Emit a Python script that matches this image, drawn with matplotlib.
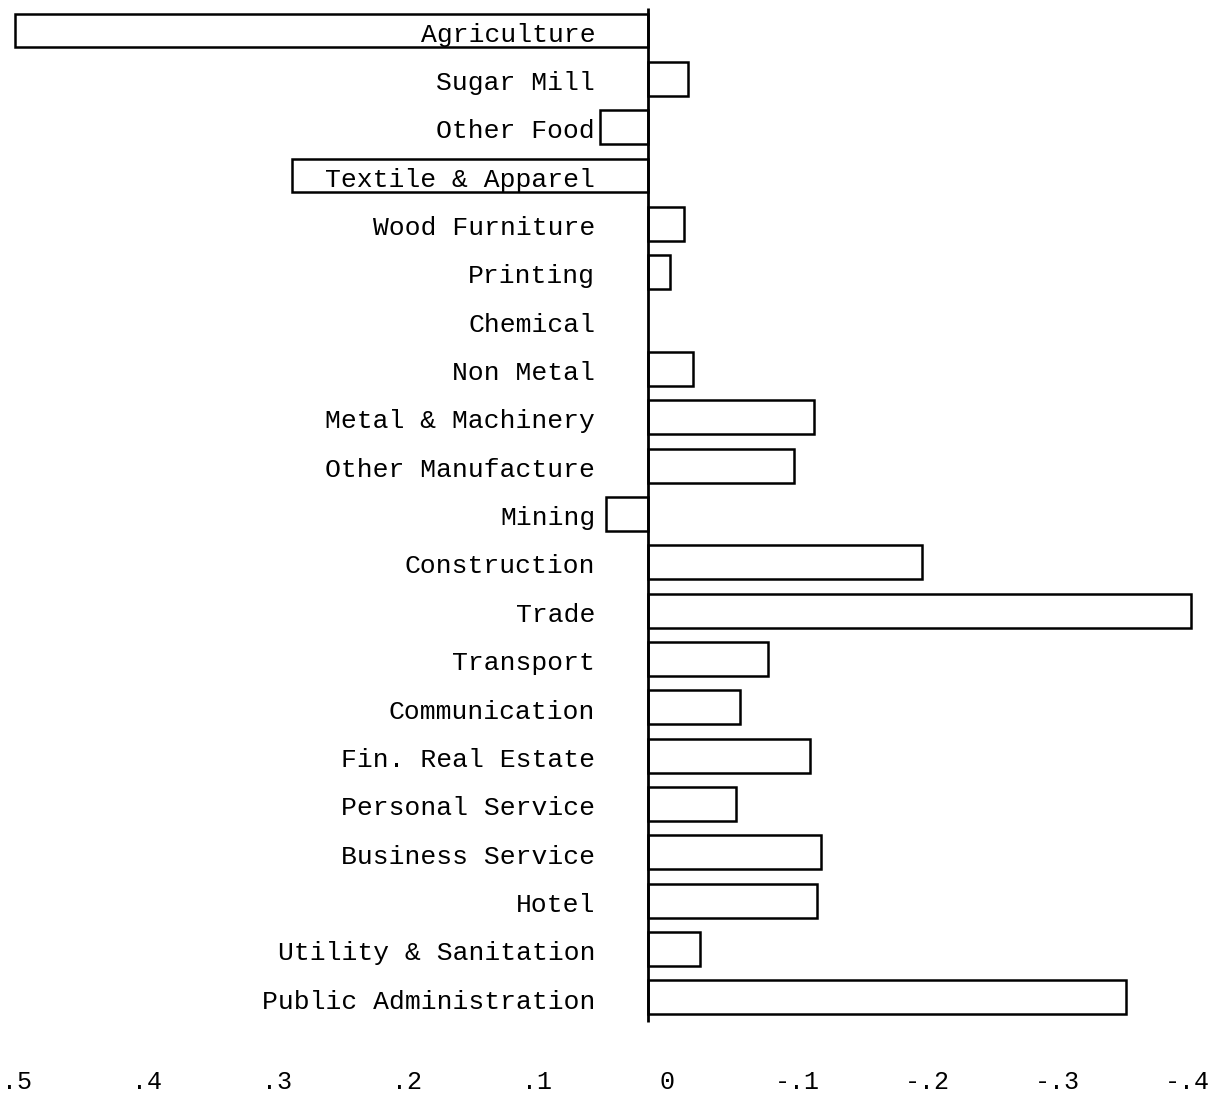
import matplotlib.pyplot as plt
from matplotlib.transforms import offset_copy

sectors = ['Agriculture', 'Sugar Mill', 'Other Food', 'Textile & Apparel',
           'Wood Furniture', 'Printing', 'Chemical', 'Non Metal',
           'Metal & Machinery', 'Other Manufacture', 'Mining', 'Construction',
           'Trade', 'Transport', 'Communication', 'Fin. Real Estate',
           'Personal Service', 'Business Service', 'Hotel',
           'Utility & Sanitation', 'Public Administration']
values = [0.487, -0.031, 0.037, 0.274, -0.028, -0.017, 0.0, -0.035,
          -0.128, -0.112, 0.032, -0.211, -0.418, -0.092, -0.071, -0.125,
          -0.068, -0.133, -0.130, -0.040, -0.368]
tick_vals = [0.5, 0.4, 0.3, 0.2, 0.1, 0.0, -0.1, -0.2, -0.3, -0.4]
tick_labels = ['.5', '.4', '.3', '.2', '.1', '0', '-.1', '-.2', '-.3', '-.4']

plt.rcParams['font.family'] = ['Liberation Mono', 'DejaVu Sans Mono']

fig = plt.figure(figsize=(12.15, 10.97), dpi=100)
ax = fig.add_axes([0, 0, 1, 1])
ax.set_xlim(0.4985, -0.4362)
ax.set_ylim(22.06, -0.631)
ax.axis('off')

rows = list(range(len(sectors)))
for r, v in zip(rows, values):
    if v != 0:
        ax.barh(r, v, height=0.7, left=0, facecolor='white',
                edgecolor='black', linewidth=1.8)

ax.vlines(0, -0.47, 20.5, color='black', linewidth=2)

# sector labels sit just left of the zero line
lab_tr = offset_copy(ax.transData, fig=fig, x=-38, y=-3, units='points')
for r, name in zip(rows, sectors):
    ax.text(0, r, name, transform=lab_tr, ha='right', va='center',
            fontsize=19, color='black')

# value scale along the bottom
tick_tr = offset_copy(ax.transData, fig=fig, x=14, y=0, units='points')
for v, t in zip(tick_vals, tick_labels):
    ax.text(v, 21.75, t, transform=tick_tr, ha='center', va='center',
            fontsize=18, color='black')

fig.savefig('out.png', dpi=100)
